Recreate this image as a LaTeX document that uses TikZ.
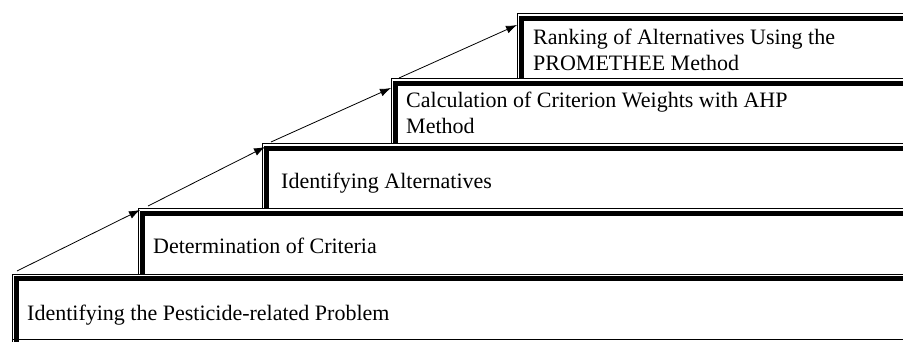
\documentclass[tikz,border=0pt]{standalone}
\usepackage{fontspec}
\setmainfont{Liberation Serif}
\usetikzlibrary{arrows.meta}
\begin{document}
\begin{tikzpicture}[x=1pt,y=-1pt,
  thinrule/.style={line width=1pt},
  thickrule/.style={line width=4.5pt},
  lbl/.style={anchor=base west, inner sep=0pt, font=\fontsize{22}{26}\selectfont, align=left},
  flow/.style={line width=0.8pt, -{Latex[length=11pt,width=8pt]}}]
\useasboundingbox (0,0) rectangle (903,342);
\clip (0,0) rectangle (903,342);
\foreach \x/\t/\b in {12/274/342, 138/209/274, 262/144/209, 391/79/144, 517/14/79} {
  \draw[thinrule] (\x,\b) -- (\x,\t) -- (910,\t);
  \draw[thickrule] (\x+4.5,\b) -- (\x+4.5,\t+4.5) -- (910,\t+4.5);
}
\draw[thinrule] (12,339) -- (910,339);
\node[lbl] (t1) at (27,320) {Identifying the Pesticide-related Problem};
\node[lbl] (t2) at (153,254) {Determination of Criteria};
\node[lbl] (t3) at (281,189) {Identifying Alternatives};
\node[lbl] (t4) at (406,134) {Calculation of Criterion Weights with AHP\\Method};
\node[lbl] (t5) at (533,71) {Ranking of Alternatives Using the\\PROMETHEE Method};
\coordinate (s1) at (17,271); \coordinate (e1) at (140,210);
\coordinate (s2) at (148,206); \coordinate (e2) at (265,147);
\coordinate (s3) at (271,142); \coordinate (e3) at (391,88);
\coordinate (s4) at (399,78); \coordinate (e4) at (517,25);
\draw[flow] (s1) -- (e1);
\draw[flow] (s2) -- (e2);
\draw[flow] (s3) -- (e3);
\draw[flow] (s4) -- (e4);
\end{tikzpicture}
\end{document}
